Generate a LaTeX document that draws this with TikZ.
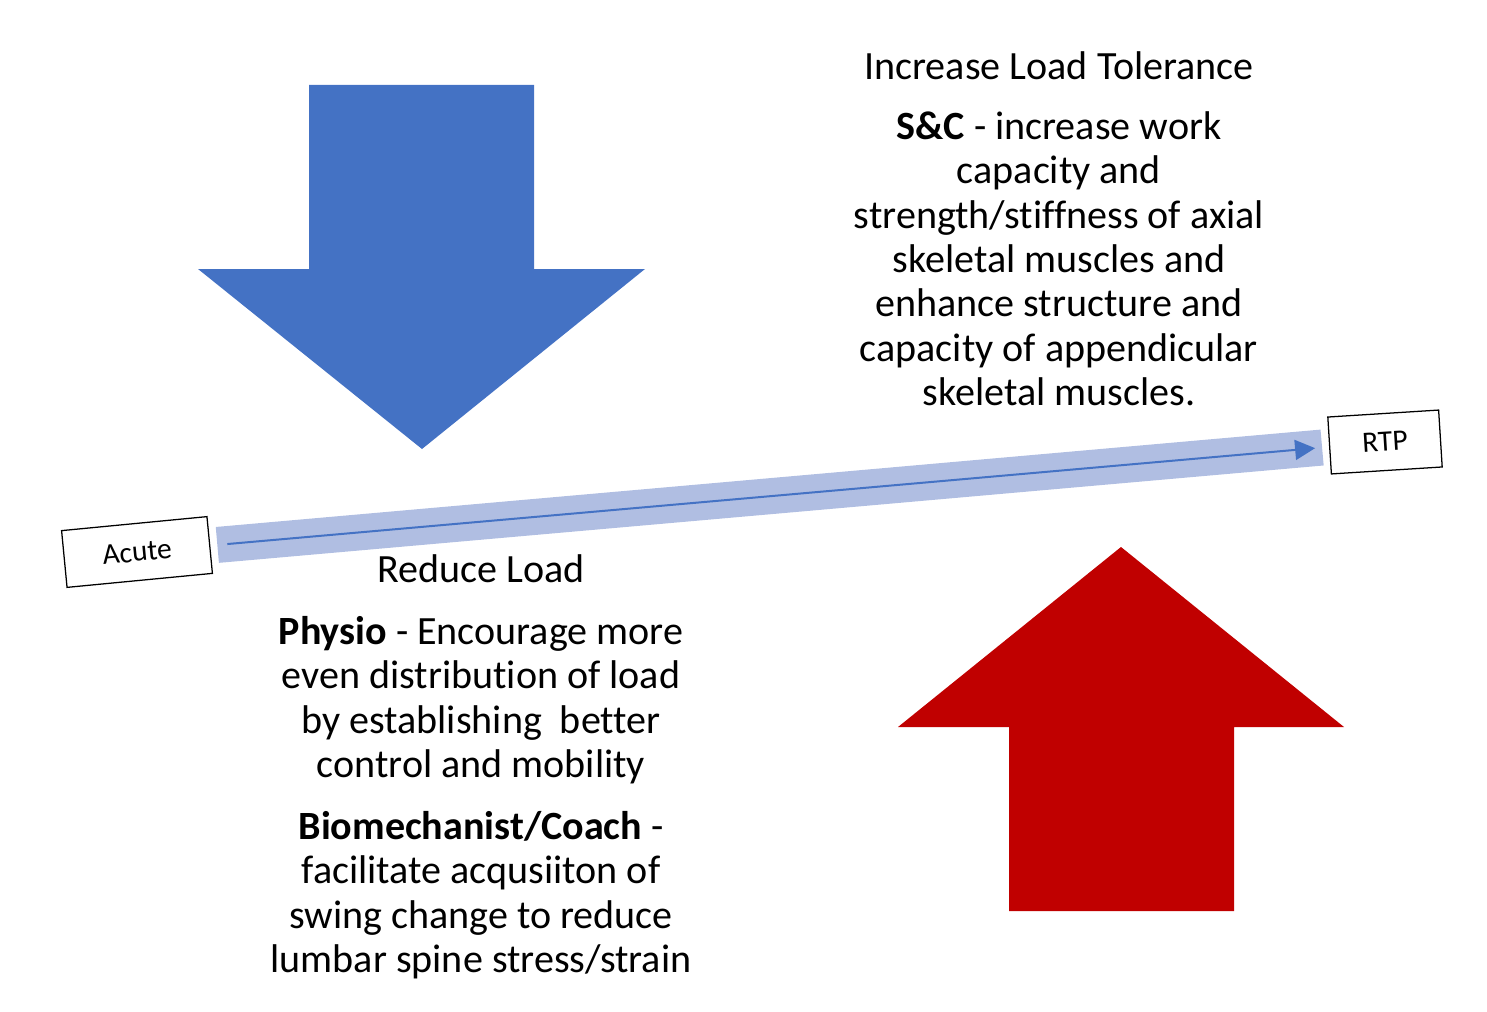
\documentclass[tikz,border=0pt]{standalone}
\usepackage{fontspec}
\setmainfont{Carlito}[Ligatures=NoCommon]
\usetikzlibrary{
	arrows.meta,
	positioning
}
\definecolor{downblue}{RGB}{68,114,196}
\definecolor{upred}{RGB}{192,0,0}
\definecolor{bandblue}{RGB}{176,190,226}

\begin{document}
\begin{tikzpicture}[
			x=0.025cm,
			y=-0.025cm,
			stagebox/.style={
				rectangle,
				draw,
				line width=0.9pt,
				fill=white,
				minimum height=1.425cm,
				inner sep=0pt,
				font=\fontsize{21pt}{25pt}\selectfont
			},
			bigtext/.style={
				align=center,
				inner sep=0pt,
				anchor=north,
				font=\fontsize{28.5pt}{31.6pt}\selectfont
			},
			band/.style={
				draw=bandblue,
				line width=0.9cm,
				shorten <=0.175cm,
				shorten >=0.175cm
			},
			arr/.style={
				draw=downblue,
				line width=0.05cm,
				-{Triangle[length=0.5cm,width=0.5cm]},
				shorten <=0.425cm,
				shorten >=0.35cm
			}
			]
			
			\useasboundingbox (0,0) rectangle (1487,1012);
			
			% big arrows
			\fill[downblue] (309,85) -- (534,85) -- (534,269) -- (645,269)
				-- (422,449) -- (198,269) -- (309,269) -- cycle;
			\fill[upred] (1009,911) -- (1234,911) -- (1234,727) -- (1344,727)
				-- (1121,547) -- (898,727) -- (1009,727) -- cycle;
			
			% stages
			\node[stagebox, minimum width=3.65cm, rotate=5.5] (acute) at (137,552) {Acute};
			\node[stagebox, minimum width=2.775cm, rotate=3.6] (rtp) at (1385,442) {RTP};
			
			\draw[band] (acute) -- (rtp);
			\draw[arr] (acute) -- (rtp);
			
			% texts
			\node[bigtext] (tol) at (1059,51) {
				Increase Load Tolerance\\[0.39cm]
				\textbf{S\&C} - increase work\\
				capacity and\\
				strength/stiffness of axial\\
				skeletal muscles and\\
				enhance structure and\\
				capacity of appendicular\\
				skeletal muscles.
			};
			
			\node[bigtext] (red) at (481,554) {
				Reduce Load\\[0.44cm]
				\textbf{Physio} - Encourage more\\
				even distribution of load\\
				by establishing\ \ better\\
				control and mobility\\[0.44cm]
				\textbf{Biomechanist/Coach} -\\
				facilitate acqusiiton of\\
				swing change to reduce\\
				lumbar spine stress/strain
			};
			
		\end{tikzpicture}
\end{document}
